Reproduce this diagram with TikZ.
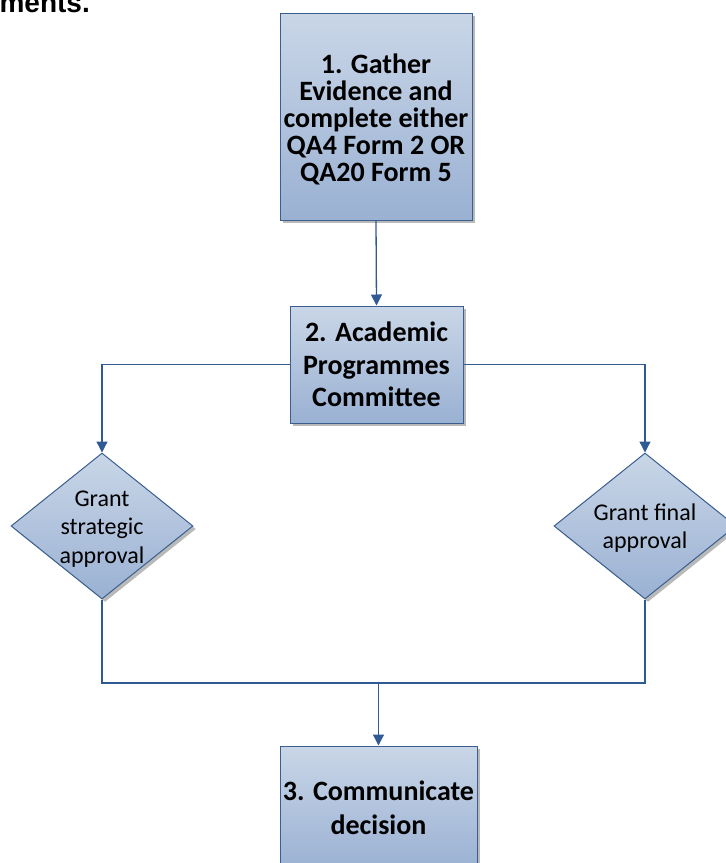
\documentclass[tikz,border=0pt]{standalone}
\usepackage{fontspec}
\setmainfont{Carlito}
\newfontfamily\headfont{Liberation Sans}
\usetikzlibrary{shapes.geometric,arrows.meta,shadows}
\definecolor{boxtop}{HTML}{C9D6E7}
\definecolor{boxbot}{HTML}{9AB1D3}
\definecolor{edgeblue}{HTML}{3A5F8F}
\definecolor{connblue}{HTML}{2F5A93}
\begin{document}
\begin{tikzpicture}[x=1pt,y=-1pt,
  shapefill/.style={draw=edgeblue, line width=1pt, top color=boxtop, bottom color=boxbot,
    drop shadow={shadow xshift=3pt, shadow yshift=-3pt, fill=black!50, opacity=.55}},
  procbox/.style={shapefill, rectangle, align=center, inner sep=0pt,
    font=\bfseries\fontsize{28}{32.5}\selectfont},
  decision/.style={shapefill, diamond, inner sep=0pt, minimum width=182pt, minimum height=146pt},
  dectext/.style={align=center, inner sep=0pt, font=\fontsize{24}{28.5}\selectfont},
  link/.style={draw=connblue, line width=1.3pt},
  arrowlink/.style={link, -{Triangle[length=11pt,width=11pt]}}
]
\useasboundingbox (0,0) rectangle (726,863);
\clip (0,0) rectangle (726,863);

\node[anchor=base east, inner sep=0pt, font=\headfont\bfseries\fontsize{28}{32}\selectfont] (head) at (90,12) {ments.};

\node[procbox, minimum width=192pt, minimum height=207pt] (b1) at (376,116.5) {};
\node[align=center, inner sep=0pt, font=\bfseries\fontsize{28}{27}\selectfont] (t1) at (376,119.5)
  {1. Gather\\Evidence and\\complete either\\QA4 Form 2 OR\\QA20 Form 5};
\node[procbox, minimum width=173pt, minimum height=117pt] (b2) at (376.5,364.5)
  {2. Academic\\Programmes\\Committee};
\node[decision] (dl) at (102,526) {};
\node[dectext] (tl) at (102,529) {Grant\\strategic\\approval};
\node[decision] (dr) at (645,526) {};
\node[dectext] (tr) at (645,528) {Grant final\\approval};
\node[procbox, minimum width=197pt, minimum height=124pt,
      font=\bfseries\fontsize{28}{34}\selectfont] (b3) at (378.5,808)
  {3. Communicate\\decision};

\coordinate (m) at (378.5,683);

\draw[arrowlink] (b1.south) -- (b2.north);
\draw[arrowlink] (b2.west) -| (dl.north);
\draw[arrowlink] (b2.east) -| (dr.north);
\draw[link] (dl.south) |- (m);
\draw[link] (dr.south) |- (m);
\draw[arrowlink] (m) -- (b3.north);
\end{tikzpicture}
\end{document}
